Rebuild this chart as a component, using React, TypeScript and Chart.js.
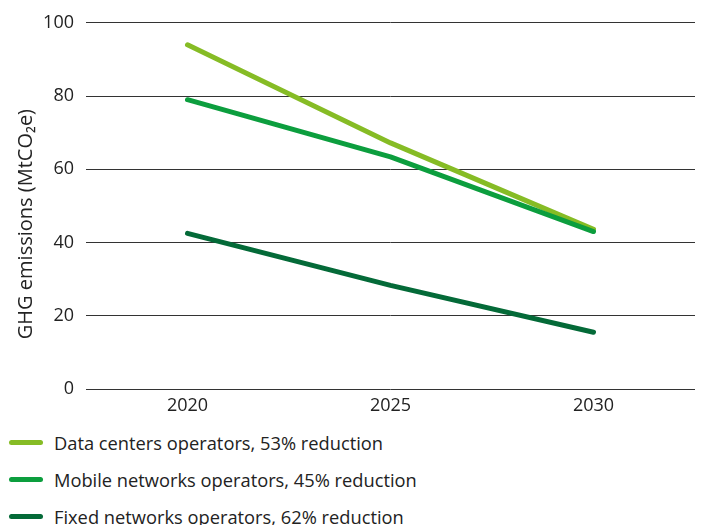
import React, { useEffect, useRef } from "react";
import { Chart, registerables } from "chart.js";

Chart.register(...registerables);

const years = ["2020", "2025", "2030"];
const dataCenters = [94.0, 67.2, 43.6];
const mobileNetworks = [79.0, 63.4, 43.0];
const fixedNetworks = [42.5, 28.3, 15.5];

const seriesLabels = [
  "Data centers operators, 53% reduction",
  "Mobile networks operators, 45% reduction",
  "Fixed networks operators, 62% reduction",
];
const seriesColors = ["#86BC25", "#0C9E3E", "#046A38"];
const yTitle = "GHG emissions (MtCO₂e)";

const FONT = "'Open Sans', 'Noto Sans', sans-serif";

export default function App() {
  const ref = useRef<HTMLCanvasElement | null>(null);

  useEffect(() => {
    document.body.style.margin = "0";
    const canvas = ref.current;
    if (!canvas) return;
    const values = [dataCenters, mobileNetworks, fixedNetworks];
    const chart = new Chart(canvas, {
      type: "line",
      data: {
        labels: years,
        datasets: values.map((v, i) => ({
          label: seriesLabels[i],
          data: v,
          borderColor: seriesColors[i],
          backgroundColor: seriesColors[i],
          borderWidth: 5,
          borderCapStyle: "round" as const,
          borderJoinStyle: "round" as const,
          pointRadius: 0,
          tension: 0,
          fill: false,
          order: i === 0 ? 3 : i === 1 ? 2 : 1,
        })),
      },
      options: {
        responsive: false,
        animation: false,
        layout: { padding: { top: 20, right: 9, bottom: 0, left: 0 } },
        plugins: {
          legend: { display: false },
          tooltip: { enabled: false },
        },
        scales: {
          x: {
            offset: true,
            grid: { display: false, drawTicks: false },
            border: { display: false },
            ticks: {
              color: "#222",
              padding: 6,
              font: { family: FONT, size: 18 },
            },
            afterFit: (s: any) => {
              s.height = 31;
            },
          },
          y: {
            min: 0,
            max: 100,
            ticks: {
              stepSize: 20,
              color: "#222",
              padding: 12,
              font: { family: FONT, size: 18 },
            },
            grid: { color: "#333", lineWidth: 1, drawTicks: false },
            border: { display: false },
            title: {
              display: true,
              text: yTitle + "\u00A0\u00A0\u00A0\u00A0\u00A0\u00A0\u00A0",
              color: "#222",
              padding: { top: 14, bottom: 0 },
              font: { family: FONT, size: 20 },
            },
            afterFit: (s: any) => {
              s.width = 86;
            },
          },
        },
      },
    });
    return () => chart.destroy();
  }, []);

  return (
    <div style={{ position: "relative", width: 704, height: 525, fontFamily: FONT }}>
      <canvas ref={ref} width={704} height={420} style={{ display: "block" }} />
      {seriesLabels.map((lab, i) => (
        <div
          key={lab}
          style={{
            position: "absolute",
            left: 0,
            top: 429 + i * 37,
            height: 26,
            display: "flex",
            alignItems: "center",
          }}
        >
          <div
            style={{
              marginLeft: 9,
              width: 34,
              height: 5,
              borderRadius: 3,
              background: seriesColors[i],
            }}
          />
          <span
            style={{
              marginLeft: 11,
              fontSize: 18.3,
              color: "#222",
              whiteSpace: "nowrap",
            }}
          >
            {lab}
          </span>
        </div>
      ))}
    </div>
  );
}
